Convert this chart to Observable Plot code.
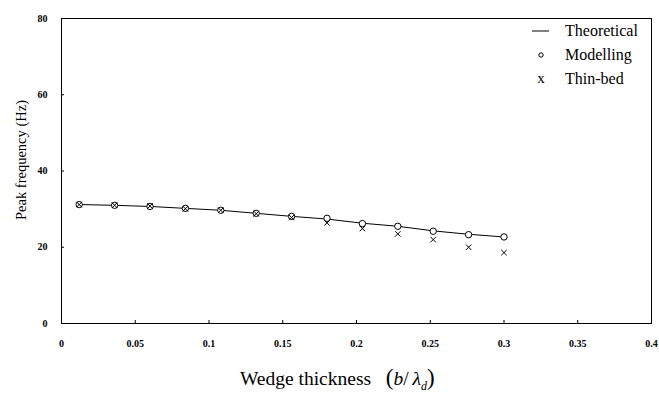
<!DOCTYPE html>
<html>
<head>
<meta charset="utf-8">
<script src="https://cdn.jsdelivr.net/npm/d3@7"></script>
<script src="https://cdn.jsdelivr.net/npm/@observablehq/plot@0.6"></script>
<style>
  html, body { margin: 0; padding: 0; background: #fff; }
  #wrap { position: relative; width: 659px; height: 396px; font-family: 'Liberation Serif'; }
  #legend { position: absolute; left: 530px; top: 19px; font-size: 16px; line-height: 23.5px; color: #000; font-family: 'Liberation Serif'; }
  #legend .row { display: flex; align-items: center; }
  #legend .sym { width: 22px; display: inline-block; text-align: center; margin-right: 13px; }
  #xlabel { position: absolute; left: 240px; top: 366px; line-height: 24px; white-space: nowrap; font-size: 19.5px; font-family: 'Liberation Serif'; }
  svg text { font-family: 'Liberation Serif' !important; }
</style>
</head>
<body>
<div id="wrap">
  <div id="chart"></div>
  <div id="legend"></div>
  <div id="xlabel">Wedge thickness&nbsp;&nbsp;&nbsp;<span style="font-size:23px">(</span><i>b</i>/&thinsp;<i>λ</i><sub style="font-size:12px"><i>d</i></sub><span style="font-size:23px">)</span></div>
</div>
<script>
const thickness   = [0.012, 0.036, 0.060, 0.084, 0.108, 0.132, 0.156, 0.180, 0.204, 0.228, 0.252, 0.276, 0.300];
const theoretical = [31.2, 31.0, 30.7, 30.2, 29.7, 28.9, 28.1, 27.4, 26.3, 25.5, 24.3, 23.4, 22.7];
const modelling   = [31.2, 31.0, 30.7, 30.2, 29.7, 28.9, 28.1, 27.6, 26.2, 25.5, 24.2, 23.3, 22.7];
const thinBed     = [31.2, 31.0, 30.8, 30.1, 29.7, 28.8, 27.8, 26.4, 24.9, 23.5, 22.0, 20.0, 18.6];
const xTicks = [0, 0.05, 0.1, 0.15, 0.2, 0.25, 0.3, 0.35, 0.4];
const yTicks = [0, 20, 40, 60, 80];
const legendLabels = ["Theoretical", "Modelling", "Thin-bed"];
const yLabel = "Peak frequency (Hz)";

const theo = thickness.map((x, i) => ({x, y: theoretical[i]}));
const mod = thickness.map((x, i) => ({x, y: modelling[i]}));
const thin = thickness.map((x, i) => ({x, y: thinBed[i]}));

const font = "Liberation Serif";

const plot = Plot.plot({
  width: 659,
  height: 396,
  marginLeft: 61,
  marginRight: 8,
  marginTop: 18,
  marginBottom: 73,
  style: {fontFamily: font, fontSize: "10px", background: "#fff", color: "#000"},
  x: {domain: [0, 0.4]},
  y: {domain: [0, 80]},
  marks: [
    Plot.frame({stroke: "#000", strokeWidth: 1}),
    Plot.axisX({ticks: xTicks, tickSize: -3, tickPadding: 19, label: null, fontWeight: "bold",
      tickFormat: d => d === 0 ? "0" : String(d)}),
    Plot.axisY({ticks: yTicks, tickSize: -3, tickPadding: 17, label: null, fontWeight: "bold"}),
    Plot.text([yLabel], {frameAnchor: "left", textAnchor: "middle", dx: -40, dy: -11, rotate: -90, fontSize: 14.5, fontFamily: font}),
    Plot.line(theo, {x: "x", y: "y", stroke: "#000", strokeWidth: 1}),
    Plot.dot(mod, {x: "x", y: "y", r: 3.2, stroke: "#000", fill: "#fff", strokeWidth: 1}),
    Plot.dot(thin, {x: "x", y: "y", r: 2.6, symbol: "times", stroke: "#000", strokeWidth: 1})
  ]
});
plot.setAttribute("font-family", font);
document.getElementById("chart").appendChild(plot);

const legend = document.getElementById("legend");
const syms = [
  '<svg width="22" height="10"><line x1="2" x2="19" y1="5" y2="5" stroke="#000" stroke-width="1"/></svg>',
  '<svg width="22" height="10"><circle cx="11" cy="5" r="2.2" fill="none" stroke="#000" stroke-width="1"/></svg>',
  '<span style="font-size:15px">x</span>'
];
legendLabels.forEach((lab, i) => {
  const row = document.createElement("div");
  row.className = "row";
  row.innerHTML = `<span class="sym">${syms[i]}</span><span>${lab}</span>`;
  legend.appendChild(row);
});
</script>
</body>
</html>
